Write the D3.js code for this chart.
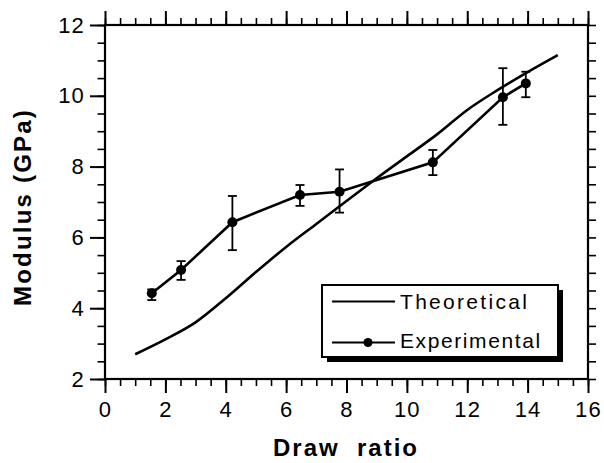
<!DOCTYPE html>
<html>
<head>
<meta charset="utf-8">
<script src="https://cdn.jsdelivr.net/npm/d3@7"></script>
<style>
  html, body { margin: 0; padding: 0; background: #fff; }
  svg { display: block; }
  text { font-family: "Liberation Sans", Arial, Helvetica, sans-serif; fill: #000; }
</style>
</head>
<body>
<svg id="chart" width="604" height="463"></svg>
<script>
// ---- data ----
const theoX = [1, 2, 3, 4, 5, 6, 7, 8, 9, 10, 11, 12, 13, 14, 15];
const theoY = [2.70, 3.12, 3.60, 4.28, 5.02, 5.73, 6.38, 7.03, 7.67, 8.29, 8.91, 9.60, 10.16, 10.67, 11.15];
const expX = [1.55, 2.52, 4.22, 6.46, 7.77, 10.86, 13.18, 13.94];
const expY = [4.42, 5.08, 6.43, 7.20, 7.29, 8.12, 9.96, 10.35];
const errLo = [4.23, 4.80, 5.64, 6.89, 6.70, 7.76, 9.18, 9.96];
const errHi = [4.53, 5.33, 7.17, 7.48, 7.92, 8.47, 10.78, 10.68];
const xTicks = [0, 2, 4, 6, 8, 10, 12, 14, 16];
const yTicks = [2, 4, 6, 8, 10, 12];
const xMinor = d3.range(0, 16.01, 0.5);
const yMinor = d3.range(2, 12.01, 0.5);
const seriesNames = ["Theoretical", "Experimental"];
const xTitle = "Draw  ratio";
const yTitle = "Modulus (GPa)";

// ---- layout ----
const svg = d3.select("#chart");
const L = 105, R = 588, T = 25, B = 379;
const x = d3.scaleLinear().domain([0, 16]).range([L, R]);
const y = d3.scaleLinear().domain([2, 12]).range([B, T]);

function styleAxis(g, sw) {
  g.select(".domain").remove();
  g.selectAll(".tick line").attr("stroke", "#000").attr("stroke-width", sw);
  g.selectAll("text").attr("font-size", 22).attr("letter-spacing", "1.2px").attr("fill", "#000");
}

// minor ticks
svg.append("g").attr("transform", `translate(0,${B})`)
  .call(d3.axisBottom(x).tickValues(xMinor).tickSize(7).tickFormat(""))
  .call(g => styleAxis(g, 1.6));
svg.append("g").attr("transform", `translate(0,${T})`)
  .call(d3.axisTop(x).tickValues(xMinor).tickSize(7).tickFormat(""))
  .call(g => styleAxis(g, 1.6));
svg.append("g").attr("transform", `translate(${L},0)`)
  .call(d3.axisLeft(y).tickValues(yMinor).tickSize(7.5).tickFormat(""))
  .call(g => styleAxis(g, 1.6));
svg.append("g").attr("transform", `translate(${R},0)`)
  .call(d3.axisRight(y).tickValues(yMinor).tickSize(8).tickFormat(""))
  .call(g => styleAxis(g, 1.6));

// major ticks
svg.append("g").attr("transform", `translate(0,${B})`)
  .call(d3.axisBottom(x).tickValues(xTicks).tickSize(14).tickPadding(8).tickFormat(d3.format("d")))
  .call(g => styleAxis(g, 2));
svg.append("g").attr("transform", `translate(0,${T})`)
  .call(d3.axisTop(x).tickValues(xTicks).tickSize(14).tickFormat(""))
  .call(g => styleAxis(g, 2));
svg.append("g").attr("transform", `translate(${L},0)`)
  .call(d3.axisLeft(y).tickValues(yTicks).tickSize(15).tickPadding(5).tickFormat(d3.format("d")))
  .call(g => styleAxis(g, 2));

// frame
svg.append("rect").attr("x", L).attr("y", T).attr("width", R - L).attr("height", B - T)
  .attr("fill", "none").attr("stroke", "#000").attr("stroke-width", 2.2);

// theoretical curve
const theo = theoX.map((d, i) => [d, theoY[i]]);
svg.append("path").datum(theo)
  .attr("fill", "none").attr("stroke", "#000").attr("stroke-width", 2.6)
  .attr("d", d3.line().x(d => x(d[0])).y(d => y(d[1])).curve(d3.curveMonotoneX));

// experimental
const exp = expX.map((d, i) => ({ x: d, y: expY[i], lo: errLo[i], hi: errHi[i] }));
svg.append("path").datum(exp)
  .attr("fill", "none").attr("stroke", "#000").attr("stroke-width", 2.6)
  .attr("d", d3.line().x(d => x(d.x)).y(d => y(d.y)));
const eb = svg.append("g").attr("stroke", "#000").attr("stroke-width", 1.8);
eb.selectAll(".v").data(exp).join("line")
  .attr("x1", d => x(d.x)).attr("x2", d => x(d.x))
  .attr("y1", d => y(d.lo)).attr("y2", d => y(d.hi));
eb.selectAll(".c1").data(exp).join("line")
  .attr("x1", d => x(d.x) - 4.5).attr("x2", d => x(d.x) + 4.5)
  .attr("y1", d => y(d.lo)).attr("y2", d => y(d.lo));
eb.selectAll(".c2").data(exp).join("line")
  .attr("x1", d => x(d.x) - 4.5).attr("x2", d => x(d.x) + 4.5)
  .attr("y1", d => y(d.hi)).attr("y2", d => y(d.hi));
svg.append("g").selectAll("circle").data(exp).join("circle")
  .attr("cx", d => x(d.x)).attr("cy", d => y(d.y)).attr("r", 5).attr("fill", "#000");

// legend
const lg = svg.append("g");
lg.append("rect").attr("x", 327).attr("y", 290).attr("width", 236).attr("height", 72).attr("fill", "#000");
lg.append("rect").attr("x", 322).attr("y", 285).attr("width", 236).attr("height", 72)
  .attr("fill", "#fff").attr("stroke", "#000").attr("stroke-width", 2);
lg.append("line").attr("x1", 332).attr("x2", 395).attr("y1", 301.5).attr("y2", 301.5)
  .attr("stroke", "#000").attr("stroke-width", 2);
lg.append("line").attr("x1", 332).attr("x2", 395).attr("y1", 342.5).attr("y2", 342.5)
  .attr("stroke", "#000").attr("stroke-width", 2);
lg.append("circle").attr("cx", 368).attr("cy", 342.5).attr("r", 4.5).attr("fill", "#000");
lg.append("text").attr("x", 400).attr("y", 308.5).attr("font-size", 21).attr("letter-spacing", "2.3px").text(seriesNames[0]);
lg.append("text").attr("x", 400).attr("y", 348).attr("font-size", 21).attr("letter-spacing", "1.6px").text(seriesNames[1]);

// axis titles
svg.append("text").attr("x", 346).attr("y", 456).attr("text-anchor", "middle")
  .attr("font-size", 24).attr("font-weight", "bold").attr("letter-spacing", "2px")
  .attr("xml:space", "preserve").style("white-space", "pre").text(xTitle);
svg.append("text").attr("transform", "translate(31,207) rotate(-90)").attr("text-anchor", "middle")
  .attr("font-size", 24).attr("font-weight", "bold").attr("letter-spacing", "2.2px").text(yTitle);
</script>
</body>
</html>
